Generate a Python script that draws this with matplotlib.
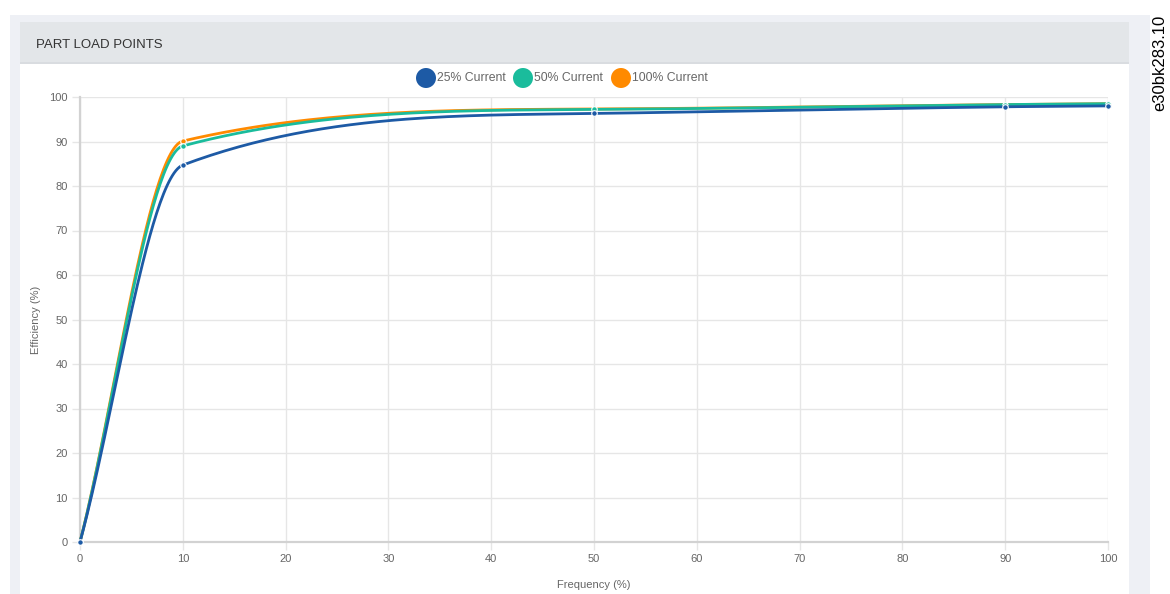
import numpy as np
import matplotlib
matplotlib.use("Agg")
import matplotlib.pyplot as plt
from matplotlib.patches import Rectangle, Ellipse

plt.rcParams['font.family'] = ['Liberation Sans', 'DejaVu Sans']

# ---- data ----
frequency = [0, 10, 50, 90, 100]
series_names = ["25% Current", "50% Current", "100% Current"]
eff_25 = [0, 84.7, 96.3, 97.8, 98.0]
eff_50 = [0, 89.0, 97.2, 98.3, 98.5]
eff_100 = [0, 90.1, 97.3, 98.3, 98.5]
x_ticks = [0, 10, 20, 30, 40, 50, 60, 70, 80, 90, 100]
y_ticks = [0, 10, 20, 30, 40, 50, 60, 70, 80, 90, 100]

colors = ["#1d5aa5", "#1abc9c", "#ff8a00"]

W, H = 1170, 594
fig = plt.figure(figsize=(W / 100, H / 100), dpi=100)


def px_rect(x0, y0, x1, y1, color, z=0):
    fig.add_artist(Rectangle((x0 / W, 1 - y1 / H), (x1 - x0) / W, (y1 - y0) / H,
                             transform=fig.transFigure, facecolor=color,
                             edgecolor='none', zorder=z))


px_rect(10, 15, 1150, 594, "#eef0f5", -10)
px_rect(20, 22, 1129, 594, "#ffffff", -9)
px_rect(20, 22, 1129, 63, "#e3e6e9", -8)
px_rect(20, 62, 1129, 64, "#d9dce0", -8)
fig.text(36 / W, 1 - 44.5 / H, "PART LOAD POINTS", fontsize=9.5, color="#333333",
         va='center', ha='left')
fig.text(1152 / W, 1 - 15 / H, "e30bk283.10", fontsize=12, color="#000000",
         rotation=90, va='top', ha='left')

ax = fig.add_axes([80 / W, 1 - 542 / H, (1108 - 80) / W, (542 - 97) / H])
ax.set_facecolor('none')


def monotone_curve(x, y, n=60):
    """Fritsch-Carlson monotone cubic rendering of a series (drawing helper)."""
    x = np.asarray(x, float)
    y = np.asarray(y, float)
    d = np.diff(y) / np.diff(x)
    m = np.zeros_like(y)
    m[0], m[-1] = d[0], d[-1]
    for i in range(1, len(y) - 1):
        m[i] = 0 if d[i - 1] * d[i] <= 0 else (d[i - 1] + d[i]) / 2
    for i in range(len(d)):
        if d[i] == 0:
            m[i] = m[i + 1] = 0
            continue
        a, b = m[i] / d[i], m[i + 1] / d[i]
        s = a * a + b * b
        if s > 9:
            t = 3 / np.sqrt(s)
            m[i], m[i + 1] = t * a * d[i], t * b * d[i]
    xs, ys = [], []
    for i in range(len(d)):
        h = x[i + 1] - x[i]
        t = np.linspace(0, 1, n)
        h00 = 2 * t**3 - 3 * t**2 + 1
        h10 = t**3 - 2 * t**2 + t
        h01 = -2 * t**3 + 3 * t**2
        h11 = t**3 - t**2
        xs.append(x[i] + t * h)
        ys.append(h00 * y[i] + h10 * h * m[i] + h01 * y[i + 1] + h11 * h * m[i + 1])
    return np.concatenate(xs), np.concatenate(ys)


series = [eff_25, eff_50, eff_100]
zorders = [6, 5, 4]
for vals, c, z in zip(series, colors, zorders):
    cx, cy = monotone_curve(frequency, vals)
    ax.plot(cx, cy, color=c, lw=2.0, zorder=z, clip_on=False, solid_capstyle='round')
    ax.plot(frequency, vals, 'o', ms=4, color=c, mec='white', mew=0.8,
            zorder=z + 0.5, clip_on=False)

ax.set_xlim(0, 100)
ax.set_ylim(0, 100)
ax.set_xticks(x_ticks)
ax.set_yticks(y_ticks)
ax.grid(True, color="#e6e6e6", lw=1.0, zorder=0)
ax.set_axisbelow(True)
for s in ['top', 'right']:
    ax.spines[s].set_visible(False)
for s in ['left', 'bottom']:
    ax.spines[s].set_color("#d2d2d2")
    ax.spines[s].set_linewidth(1.6)
ax.tick_params(axis='both', length=6, width=1.0, color="#e6e6e6",
               labelsize=8, labelcolor="#666666", pad=3)
ax.set_xlabel("Frequency (%)", fontsize=8, color="#666666", labelpad=11)
ax.set_ylabel("Efficiency (%)", fontsize=8, color="#666666", labelpad=6)

# legend (Chart.js style: circles followed by text)
leg_x = [426, 523, 621]
leg_y = 78
for lx, name, c in zip(leg_x, series_names, colors):
    fig.add_artist(Ellipse((lx / W, 1 - leg_y / H), 20 / W, 20 / H,
                           transform=fig.transFigure, facecolor=c, edgecolor='none'))
    fig.text((lx + 11) / W, 1 - leg_y / H, name, fontsize=8.8, color="#666666",
             ha='left', va='center')

fig.savefig("out.png", dpi=100)
